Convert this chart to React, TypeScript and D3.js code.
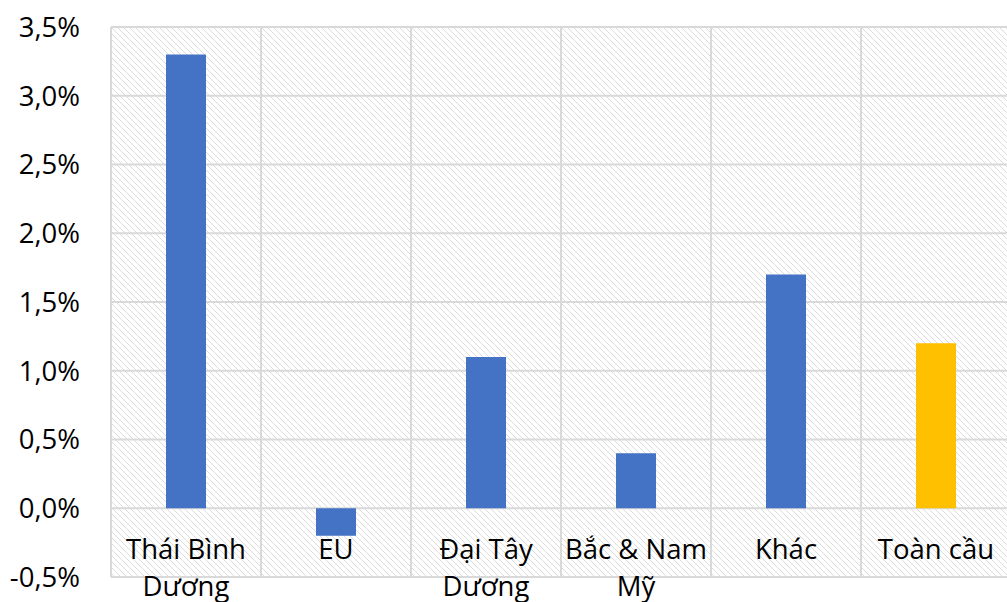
import React, { useEffect, useRef } from 'react';
import * as d3 from 'd3';

const categories = ['Thái Bình|Dương', 'EU', 'Đại Tây|Dương', 'Bắc & Nam|Mỹ', 'Khác', 'Toàn cầu'];
const values = [3.3, -0.2, 1.1, 0.4, 1.7, 1.2];
const barColors = ['#4472c4', '#4472c4', '#4472c4', '#4472c4', '#4472c4', '#ffc000'];
const yTicks = [-0.5, 0, 0.5, 1, 1.5, 2, 2.5, 3, 3.5];

export default function App() {
  const svgRef = useRef<SVGSVGElement | null>(null);

  useEffect(() => {
    if (!svgRef.current) return;
    const width = 1007;
    const height = 602;
    const left = 111;
    const right = 1011;
    const top = 27;
    const bottom = 577;

    const svg = d3.select(svgRef.current);
    svg.selectAll('*').remove();

    // hatched plot background
    const defs = svg.append('defs');
    const pat = defs.append('pattern')
      .attr('id', 'hatch')
      .attr('patternUnits', 'userSpaceOnUse')
      .attr('width', 6)
      .attr('height', 6);
    pat.append('rect').attr('width', 6).attr('height', 6).attr('fill', '#fff');
    pat.append('path')
      .attr('d', 'M-1,-1 L7,7 M-1,5 L1,7 M5,-1 L7,1')
      .attr('stroke', '#dcdcdc')
      .attr('stroke-width', 1);

    const x = d3.scaleBand<string>().domain(categories).range([left, right]);
    const y = d3.scaleLinear().domain([-0.5, 3.5]).range([bottom, top]);

    svg.append('rect')
      .attr('x', left).attr('y', top)
      .attr('width', right - left).attr('height', bottom - top)
      .attr('fill', 'url(#hatch)');

    // gridlines
    svg.append('g').selectAll('line').data(yTicks).join('line')
      .attr('x1', left).attr('x2', right)
      .attr('y1', d => y(d)).attr('y2', d => y(d))
      .attr('stroke', '#d9d9d9').attr('stroke-width', 2);

    const vlines = categories.map(c => x(c) as number).concat([right]);
    svg.append('g').selectAll('line').data(vlines).join('line')
      .attr('x1', d => d).attr('x2', d => d)
      .attr('y1', top).attr('y2', bottom)
      .attr('stroke', '#d9d9d9').attr('stroke-width', 2);

    // bars
    const barW = 40;
    svg.append('g').selectAll('rect').data(values).join('rect')
      .attr('x', (d, i) => (x(categories[i]) as number) + x.bandwidth() / 2 - barW / 2)
      .attr('y', d => y(Math.max(0, d)))
      .attr('width', barW)
      .attr('height', d => Math.abs(y(d) - y(0)))
      .attr('fill', (d, i) => barColors[i]);

    const font = '"Open Sans", "Noto Sans", sans-serif';
    const fs = 27.5;

    // y tick labels
    svg.append('g').selectAll('text').data(yTicks).join('text')
      .attr('x', 80)
      .attr('y', d => y(d))
      .attr('dy', '0.36em')
      .attr('text-anchor', 'end')
      .attr('font-family', font)
      .attr('font-size', fs)
      .attr('fill', '#000')
      .text(d => d3.format('.1f')(d).replace('.', ',').replace('−', '-') + '%');

    // category labels
    const lab = svg.append('g').selectAll('text').data(categories).join('text')
      .attr('x', d => (x(d) as number) + x.bandwidth() / 2)
      .attr('y', 559)
      .attr('text-anchor', 'middle')
      .attr('font-family', font)
      .attr('font-size', fs)
      .attr('fill', '#000');
    lab.each(function (d) {
      const t = d3.select(this);
      d.split('|').forEach((line, i) => {
        t.append('tspan')
          .attr('x', (x(d) as number) + x.bandwidth() / 2)
          .attr('dy', i === 0 ? 0 : 37)
          .text(line);
      });
    });

    svg.attr('width', width).attr('height', height);
  }, []);

  return (
    <svg
      ref={svgRef}
      width={1007}
      height={602}
      style={{ position: 'absolute', left: 0, top: 0, background: '#fff' }}
    />
  );
}
